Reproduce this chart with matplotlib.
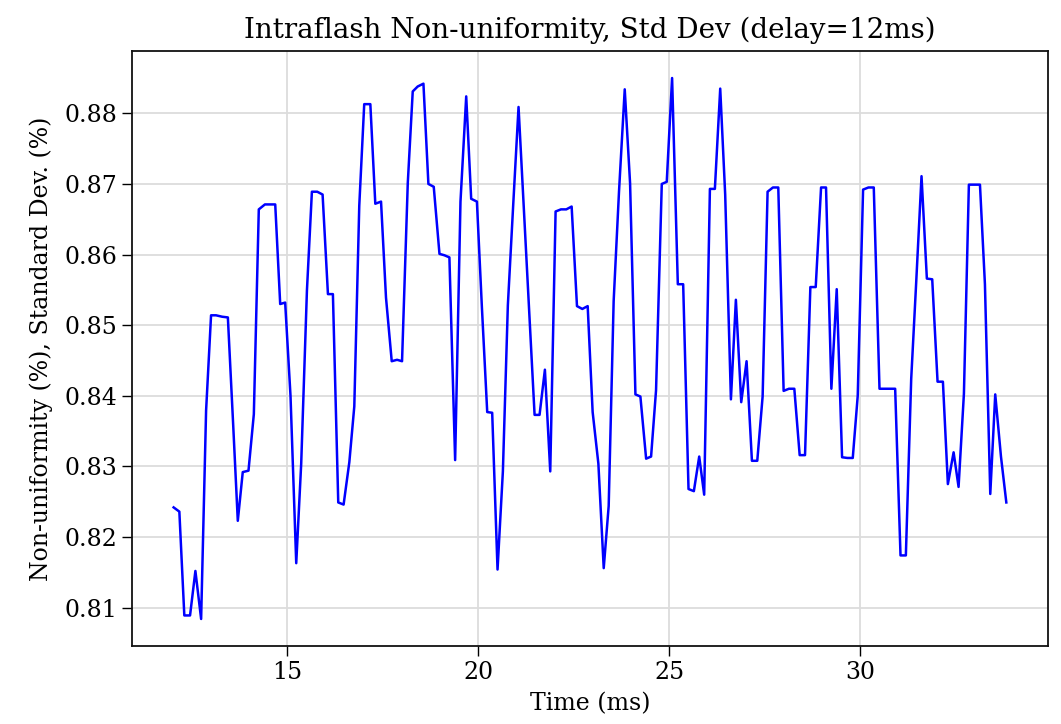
import matplotlib
matplotlib.use("Agg")
import matplotlib.pyplot as plt

# time (ms) and std-dev non-uniformity (%)
time_ms = [
    12.03, 12.18, 12.31, 12.46, 12.60, 12.75, 12.88, 13.01, 13.14, 13.30,
    13.45, 13.59, 13.71, 13.84, 13.99, 14.13, 14.26, 14.42, 14.55, 14.69,
    14.82, 14.95, 15.09, 15.24, 15.37, 15.52, 15.65, 15.79, 15.93, 16.07,
    16.20, 16.34, 16.48, 16.63, 16.76, 16.89, 17.02, 17.18, 17.31, 17.46,
    17.59, 17.74, 17.88, 18.01, 18.16, 18.29, 18.42, 18.57, 18.70, 18.84,
    18.99, 19.12, 19.25, 19.40, 19.54, 19.69, 19.82, 19.97, 20.10, 20.24,
    20.37, 20.51, 20.65, 20.78, 20.92, 21.06, 21.20, 21.34, 21.48, 21.61,
    21.75, 21.89, 22.03, 22.17, 22.31, 22.45, 22.59, 22.73, 22.87, 23.00,
    23.15, 23.29, 23.42, 23.55, 23.69, 23.84, 23.98, 24.12, 24.25, 24.40,
    24.53, 24.66, 24.81, 24.94, 25.08, 25.23, 25.37, 25.51, 25.65, 25.79,
    25.92, 26.07, 26.20, 26.34, 26.47, 26.62, 26.75, 26.89, 27.03, 27.17,
    27.31, 27.45, 27.58, 27.72, 27.86, 28.00, 28.14, 28.28, 28.42, 28.56,
    28.70, 28.84, 28.98, 29.11, 29.25, 29.39, 29.53, 29.67, 29.81, 29.94,
    30.08, 30.22, 30.36, 30.51, 30.64, 30.78, 30.92, 31.06, 31.20, 31.34,
    31.47, 31.61, 31.75, 31.89, 32.03, 32.17, 32.30, 32.45, 32.58, 32.72,
    32.85, 32.99, 33.14, 33.27, 33.41, 33.54, 33.69, 33.83,
]
std_dev = [
    0.8242, 0.8236, 0.8089, 0.8089, 0.8152, 0.8084, 0.8379, 0.8514, 0.8514, 0.8512,
    0.8511, 0.8358, 0.8223, 0.8292, 0.8294, 0.8374, 0.8664, 0.8671, 0.8671, 0.8671,
    0.8530, 0.8532, 0.8400, 0.8163, 0.8304, 0.8549, 0.8689, 0.8689, 0.8685, 0.8544,
    0.8544, 0.8249, 0.8246, 0.8306, 0.8385, 0.8669, 0.8813, 0.8813, 0.8672, 0.8675,
    0.8539, 0.8449, 0.8451, 0.8449, 0.8701, 0.8831, 0.8838, 0.8842, 0.8700, 0.8696,
    0.8601, 0.8599, 0.8596, 0.8309, 0.8675, 0.8824, 0.8679, 0.8675, 0.8526, 0.8377,
    0.8376, 0.8154, 0.8293, 0.8528, 0.8670, 0.8809, 0.8664, 0.8518, 0.8373, 0.8373,
    0.8437, 0.8293, 0.8661, 0.8664, 0.8664, 0.8668, 0.8527, 0.8523, 0.8527, 0.8377,
    0.8304, 0.8156, 0.8244, 0.8534, 0.8689, 0.8834, 0.8701, 0.8402, 0.8399, 0.8311,
    0.8314, 0.8408, 0.8700, 0.8703, 0.8850, 0.8558, 0.8558, 0.8268, 0.8265, 0.8314,
    0.8260, 0.8693, 0.8693, 0.8835, 0.8685, 0.8395, 0.8536, 0.8391, 0.8449, 0.8308,
    0.8308, 0.8399, 0.8689, 0.8695, 0.8695, 0.8407, 0.8410, 0.8410, 0.8316, 0.8316,
    0.8554, 0.8554, 0.8695, 0.8695, 0.8410, 0.8551, 0.8313, 0.8312, 0.8312, 0.8400,
    0.8692, 0.8695, 0.8695, 0.8410, 0.8410, 0.8410, 0.8410, 0.8174, 0.8174, 0.8424,
    0.8560, 0.8711, 0.8566, 0.8565, 0.8420, 0.8420, 0.8275, 0.8320, 0.8271, 0.8403,
    0.8699, 0.8699, 0.8699, 0.8558, 0.8261, 0.8402, 0.8314, 0.8249,
]

plt.rcParams['font.family'] = ['DejaVu Serif']

fig = plt.figure(figsize=(10.61, 7.24), dpi=100)
ax = fig.add_axes([0.1244, 0.1077, 0.8633, 0.8219])

ax.plot(time_ms, std_dev, color='#0000ff', linewidth=1.8)

ax.grid(True, color='#dcdcdc', linewidth=1.3)
ax.set_axisbelow(True)
ax.set_xticks([15, 20, 25, 30])
ax.set_yticks([0.81, 0.82, 0.83, 0.84, 0.85, 0.86, 0.87, 0.88])
ax.tick_params(labelsize=17, length=7, width=1.0)
for s in ax.spines.values():
    s.set_linewidth(1.3)
    s.set_color('#111111')

ax.set_title("Intraflash Non-uniformity, Std Dev (delay=12ms)", fontsize=20, pad=9)
ax.set_xlabel("Time (ms)", fontsize=17, labelpad=6)
ax.set_ylabel("Non-uniformity (%), Standard Dev. (%)", fontsize=17, labelpad=8)

fig.savefig("out.png", dpi=100)
